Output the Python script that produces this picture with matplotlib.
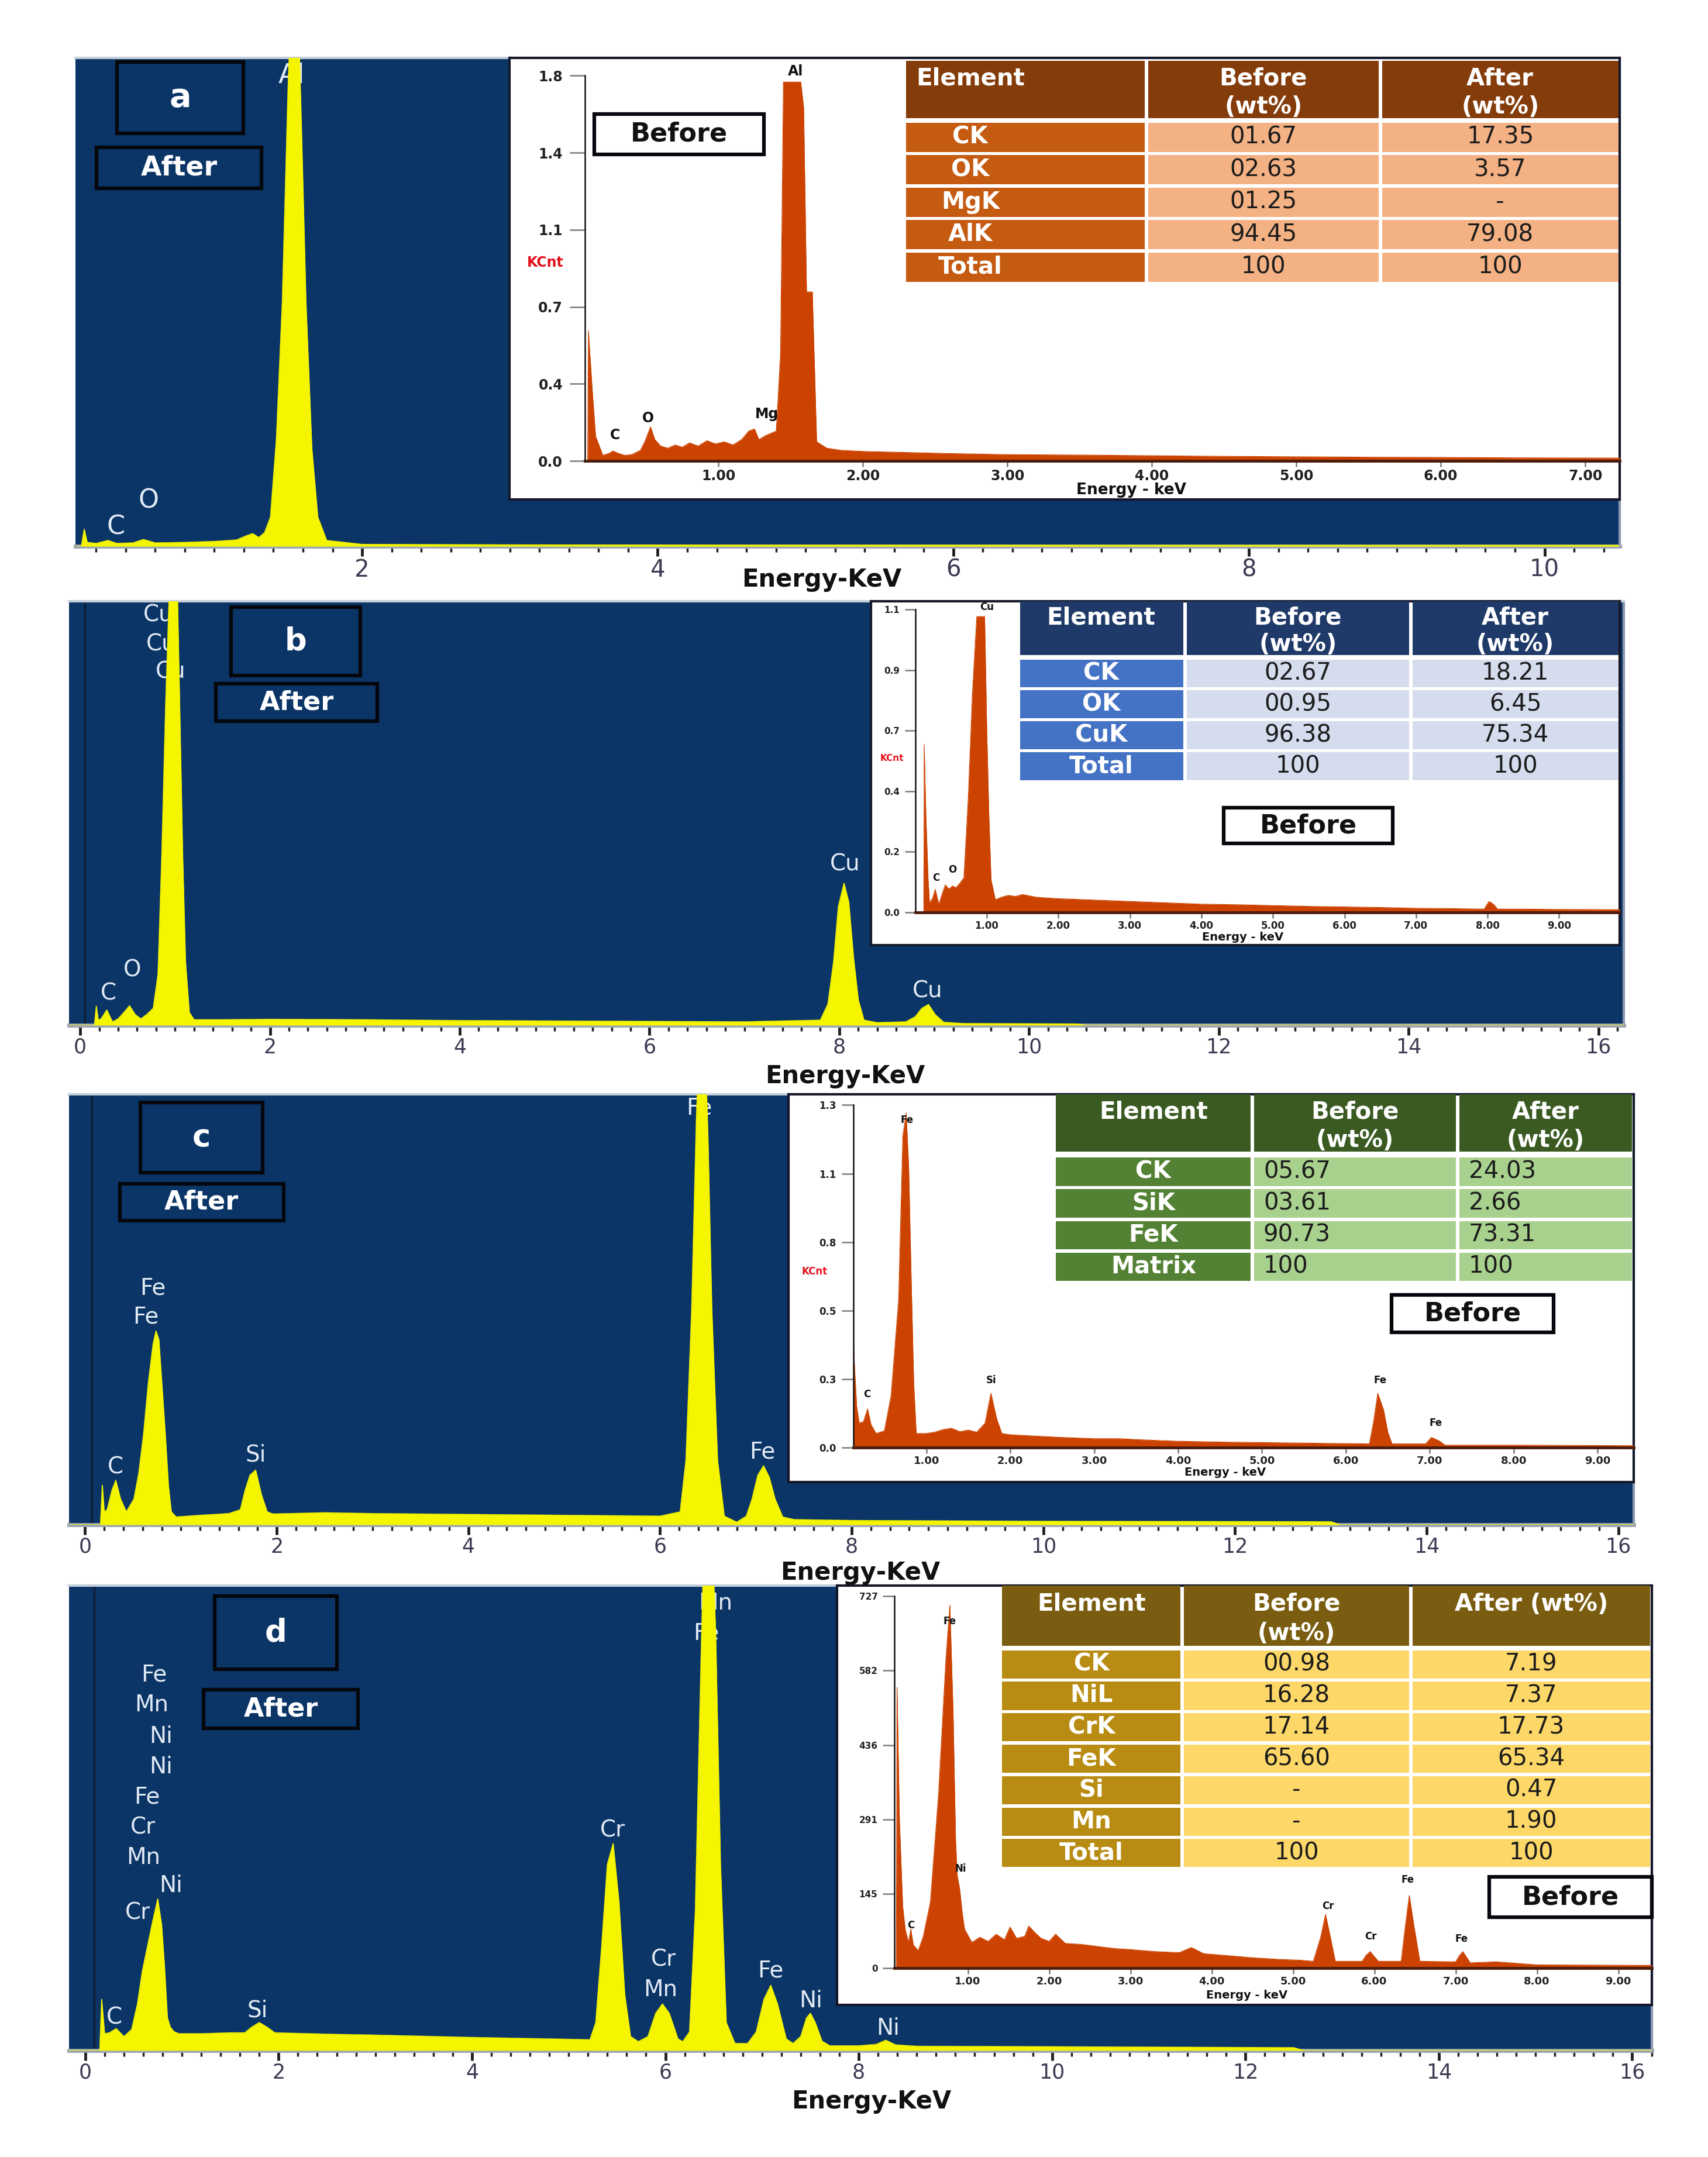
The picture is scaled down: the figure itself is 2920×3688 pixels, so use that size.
import matplotlib
matplotlib.use("Agg")
import matplotlib.pyplot as plt
from matplotlib.patches import Rectangle
from matplotlib.ticker import MultipleLocator

# layout below is measured on a 1241 px wide copy of the figure
W_PX, H_PX = 2920, 3688
REF_W = 1241.0
REF_H = REF_W * H_PX / W_PX

NAVY = "#0a3566"
YELLOW = "#f5f500"
ORANGE = "#cc4200"
PEAK_TEXT = "#e2eaf4"

# ---- "After" spectra (energy keV, counts as % of panel height) ----
AFTER_A = [(0.06, 0), (0.10, 0), (0.12, 3.5), (0.14, 0.8), (0.20, 0.6), (0.28, 1.2), (0.34, 0.6),
           (0.45, 0.7), (0.52, 1.4), (0.60, 0.7), (0.80, 0.8), (1.00, 1.0), (1.15, 1.3), (1.22, 2.2),
           (1.26, 2.6), (1.30, 1.8), (1.34, 2.8), (1.38, 6.0), (1.42, 22.0), (1.46, 50.0), (1.50, 95.0),
           (1.53, 118.0), (1.56, 118.0), (1.59, 85.0), (1.62, 50.0), (1.66, 20.0), (1.70, 6.0),
           (1.76, 1.2), (2.00, 0.4), (3.00, 0.3), (5.00, 0.25), (8.00, 0.2), (10.5, 0.2)]

AFTER_B = [(-0.12, 0), (0.15, 0), (0.17, 4.5), (0.19, 1.2), (0.22, 1.5), (0.28, 3.6), (0.34, 0.8),
           (0.40, 1.5), (0.46, 3.0), (0.52, 4.6), (0.58, 2.5), (0.64, 1.5), (0.70, 2.5), (0.77, 4.0),
           (0.82, 12.0), (0.86, 40.0), (0.90, 75.0), (0.95, 110.0), (0.98, 118.0), (1.01, 118.0),
           (1.04, 85.0), (1.08, 40.0), (1.11, 15.0), (1.15, 3.0), (1.20, 1.3), (1.5, 1.3), (2.0, 1.4),
           (3.0, 1.3), (4.0, 1.1), (5.0, 1.0), (6.0, 0.9), (7.0, 0.8), (7.80, 1.2), (7.88, 5.0),
           (7.94, 15.0), (7.99, 28.0), (8.05, 33.5), (8.10, 29.0), (8.15, 16.0), (8.20, 6.0),
           (8.26, 1.2), (8.40, 0.6), (8.70, 0.8), (8.80, 2.0), (8.87, 4.0), (8.94, 4.9), (9.01, 2.5),
           (9.10, 0.7), (9.30, 0.4), (10.5, 0.3), (10.6, 0), (16.3, 0)]

AFTER_C = [(-0.17, 0), (0.16, 0), (0.18, 9.2), (0.20, 3.0), (0.23, 3.5), (0.28, 8.0), (0.32, 10.3),
           (0.37, 6.0), (0.43, 3.0), (0.51, 6.0), (0.56, 12.0), (0.61, 21.0), (0.66, 33.0),
           (0.71, 42.0), (0.74, 45.0), (0.77, 43.0), (0.81, 30.0), (0.84, 20.0), (0.87, 9.0),
           (0.90, 3.0), (0.95, 1.8), (1.2, 2.2), (1.5, 2.6), (1.62, 3.5), (1.67, 8.0), (1.72, 11.5),
           (1.78, 12.7), (1.84, 7.0), (1.90, 3.0), (1.96, 2.5), (2.5, 2.8), (3.0, 2.6), (4.0, 2.4),
           (5.0, 2.2), (6.0, 2.0), (6.21, 3.0), (6.27, 15.0), (6.33, 50.0), (6.38, 95.0),
           (6.42, 118.0), (6.46, 118.0), (6.50, 90.0), (6.54, 50.0), (6.60, 15.0), (6.67, 2.0),
           (6.80, 0.6), (6.90, 2.0), (6.96, 6.0), (7.02, 11.5), (7.08, 13.7), (7.14, 11.0),
           (7.20, 6.0), (7.28, 1.8), (7.40, 1.2), (8.0, 1.0), (10.0, 0.8), (13.0, 0.7), (13.1, 0),
           (16.2, 0)]

AFTER_D = [(-0.17, 0), (0.15, 0), (0.17, 11.0), (0.20, 3.6), (0.25, 3.8), (0.32, 4.7), (0.40, 3.0),
           (0.48, 4.5), (0.54, 10.0), (0.59, 17.0), (0.64, 22.0), (0.70, 28.0), (0.75, 32.6),
           (0.79, 27.0), (0.82, 18.0), (0.85, 7.0), (0.88, 5.0), (0.92, 4.0), (0.97, 3.6), (1.2, 3.6),
           (1.5, 3.8), (1.65, 3.8), (1.72, 5.0), (1.80, 6.0), (1.88, 5.0), (1.96, 3.8), (2.5, 3.5),
           (3.0, 3.3), (4.0, 2.8), (5.0, 2.4), (5.22, 2.3), (5.28, 6.0), (5.34, 22.0), (5.40, 40.0),
           (5.46, 44.5), (5.52, 32.0), (5.58, 12.0), (5.64, 3.0), (5.72, 1.9), (5.82, 3.0),
           (5.90, 8.0), (5.97, 10.0), (6.04, 8.0), (6.13, 2.5), (6.18, 1.9), (6.25, 4.0),
           (6.31, 30.0), (6.37, 85.0), (6.41, 118.0), (6.47, 118.0), (6.52, 90.0), (6.57, 40.0),
           (6.63, 6.0), (6.72, 1.5), (6.85, 1.5), (6.94, 4.0), (7.02, 11.0), (7.09, 14.0),
           (7.16, 10.0), (7.25, 2.5), (7.32, 1.5), (7.40, 3.0), (7.46, 7.0), (7.50, 8.0), (7.55, 6.0),
           (7.62, 2.0), (7.70, 1.0), (8.0, 1.0), (8.18, 1.3), (8.28, 2.2), (8.38, 1.2), (8.6, 0.9),
           (10.0, 0.8), (12.5, 0.6), (12.6, 0), (16.2, 0)]

# ---- "Before" spectra (energy keV, KCnt or counts) ----
BEFORE_A = [(0.08, 0), (0.095, 0), (0.10, 0.61), (0.12, 0.40), (0.13, 0.30), (0.15, 0.115),
            (0.20, 0.027), (0.24, 0.035), (0.27, 0.047), (0.31, 0.035), (0.35, 0.027), (0.40, 0.03),
            (0.46, 0.05), (0.49, 0.09), (0.53, 0.16), (0.56, 0.10), (0.60, 0.07), (0.65, 0.06),
            (0.70, 0.075), (0.75, 0.065), (0.80, 0.085), (0.86, 0.07), (0.92, 0.095), (0.98, 0.08),
            (1.04, 0.09), (1.10, 0.075), (1.16, 0.10), (1.21, 0.14), (1.25, 0.15), (1.28, 0.10),
            (1.33, 0.12), (1.40, 0.14), (1.43, 0.5), (1.45, 1.77), (1.57, 1.77), (1.59, 1.65),
            (1.61, 0.79), (1.65, 0.79), (1.68, 0.09), (1.75, 0.06), (1.85, 0.05), (2.0, 0.045),
            (2.3, 0.04), (2.6, 0.035), (3.0, 0.03), (3.5, 0.028), (4.0, 0.025), (4.5, 0.022),
            (5.0, 0.02), (5.5, 0.018), (6.0, 0.017), (6.5, 0.015), (7.24, 0.014)]

BEFORE_B = [(0.0, 0), (0.12, 0), (0.125, 0.61), (0.15, 0.34), (0.18, 0.12), (0.20, 0.034),
            (0.24, 0.05), (0.28, 0.084), (0.31, 0.05), (0.33, 0.03), (0.38, 0.07), (0.42, 0.10),
            (0.47, 0.085), (0.52, 0.096), (0.57, 0.09), (0.62, 0.105), (0.68, 0.126), (0.74, 0.41),
            (0.80, 0.8), (0.86, 1.075), (0.97, 1.075), (1.0, 0.66), (1.03, 0.35), (1.06, 0.118),
            (1.12, 0.046), (1.2, 0.055), (1.3, 0.062), (1.4, 0.058), (1.5, 0.065), (1.7, 0.055),
            (2.0, 0.05), (2.5, 0.045), (3.0, 0.04), (3.5, 0.035), (4.0, 0.03), (4.5, 0.028),
            (5.0, 0.025), (5.5, 0.022), (6.0, 0.02), (6.5, 0.018), (7.0, 0.015), (7.5, 0.014),
            (7.95, 0.012), (8.02, 0.04), (8.08, 0.03), (8.14, 0.012), (8.5, 0.012), (9.0, 0.011),
            (9.85, 0.01)]

BEFORE_C = [(0.10, 0), (0.115, 0), (0.12, 0.557), (0.14, 0.34), (0.17, 0.16), (0.20, 0.095),
            (0.25, 0.10), (0.30, 0.15), (0.34, 0.09), (0.40, 0.055), (0.45, 0.06), (0.50, 0.065),
            (0.58, 0.2), (0.67, 0.57), (0.72, 1.20), (0.76, 1.29), (0.79, 1.08), (0.82, 0.65),
            (0.85, 0.25), (0.88, 0.055), (1.0, 0.055), (1.1, 0.06), (1.2, 0.07), (1.3, 0.075),
            (1.4, 0.062), (1.5, 0.068), (1.6, 0.06), (1.7, 0.095), (1.77, 0.21), (1.84, 0.11),
            (1.9, 0.055), (2.0, 0.05), (2.3, 0.045), (2.6, 0.04), (3.0, 0.035), (3.3, 0.035),
            (3.6, 0.03), (4.0, 0.025), (4.5, 0.022), (5.0, 0.02), (5.5, 0.018), (6.0, 0.016),
            (6.28, 0.015), (6.33, 0.1), (6.38, 0.21), (6.45, 0.145), (6.50, 0.06), (6.55, 0.015),
            (6.95, 0.015), (7.02, 0.04), (7.12, 0.025), (7.18, 0.01), (8.0, 0.01), (9.43, 0.008)]

BEFORE_D = [(0.10, 0), (0.12, 0), (0.13, 549), (0.16, 286), (0.20, 120), (0.23, 76), (0.27, 50),
            (0.30, 76), (0.33, 45), (0.39, 34), (0.45, 60), (0.54, 129), (0.64, 339), (0.73, 602),
            (0.78, 710), (0.82, 497), (0.85, 250), (0.87, 181), (0.90, 155), (0.93, 110), (0.96, 76),
            (1.05, 50), (1.15, 60), (1.25, 52), (1.35, 66), (1.45, 55), (1.52, 80), (1.6, 58),
            (1.7, 62), (1.75, 82), (1.82, 70), (1.9, 58), (2.0, 52), (2.08, 66), (2.2, 48),
            (2.4, 46), (2.6, 42), (2.8, 38), (3.0, 36), (3.3, 32), (3.6, 30), (3.75, 40), (3.9, 28),
            (4.2, 24), (4.5, 20), (4.8, 17), (5.1, 15), (5.25, 13), (5.34, 60), (5.40, 105),
            (5.46, 60), (5.52, 13), (5.85, 13), (5.90, 25), (5.95, 32), (6.0, 22), (6.05, 13),
            (6.33, 13), (6.38, 80), (6.43, 142), (6.49, 80), (6.56, 13), (7.0, 12), (7.05, 25),
            (7.09, 32), (7.13, 22), (7.18, 10), (7.5, 12), (8.0, 6), (9.41, 5)]

# ---- inset axis ticks ----
INSET_A_YTICKS = [0, 0.36, 0.72, 1.08, 1.44, 1.8]
INSET_A_YLABELS = ["0.0", "0.4", "0.7", "1.1", "1.4", "1.8"]
INSET_B_YTICKS = [0, 0.22, 0.44, 0.66, 0.88, 1.1]
INSET_B_YLABELS = ["0.0", "0.2", "0.4", "0.7", "0.9", "1.1"]
INSET_C_YTICKS = [0, 0.264, 0.528, 0.792, 1.056, 1.32]
INSET_C_YLABELS = ["0.0", "0.3", "0.5", "0.8", "1.1", "1.3"]
INSET_D_YTICKS = [0, 145.4, 290.8, 436.2, 581.6, 727]
INSET_D_YLABELS = ["0", "145", "291", "436", "582", "727"]
INSET_A_XTICKS = [1, 2, 3, 4, 5, 6, 7]
INSET_BCD_XTICKS = [1, 2, 3, 4, 5, 6, 7, 8, 9]

# ---- composition tables ----
TABLE_A_ELEMENTS = ["CK", "OK", "MgK", "AlK", "Total"]
TABLE_A_BEFORE = ["01.67", "02.63", "01.25", "94.45", "100"]
TABLE_A_AFTER = ["17.35", "3.57", "-", "79.08", "100"]
TABLE_B_ELEMENTS = ["CK", "OK", "CuK", "Total"]
TABLE_B_BEFORE = ["02.67", "00.95", "96.38", "100"]
TABLE_B_AFTER = ["18.21", "6.45", "75.34", "100"]
TABLE_C_ELEMENTS = ["CK", "SiK", "FeK", "Matrix"]
TABLE_C_BEFORE = ["05.67", "03.61", "90.73", "100"]
TABLE_C_AFTER = ["24.03", "2.66", "73.31", "100"]
TABLE_D_ELEMENTS = ["CK", "NiL", "CrK", "FeK", "Si", "Mn", "Total"]
TABLE_D_BEFORE = ["00.98", "16.28", "17.14", "65.60", "-", "-", "100"]
TABLE_D_AFTER = ["7.19", "7.37", "17.73", "65.34", "0.47", "1.90", "100"]


def fig_rect(x0, y0, x1, y1):
    return [x0 / REF_W, 1 - y1 / REF_H, (x1 - x0) / REF_W, (y1 - y0) / REF_H]


def draw_after(fig, ov, box, xlim, spectrum, axis_line, peak_labels, tick_size):
    ax = fig.add_axes(fig_rect(*box), zorder=1)
    ax.set_facecolor(NAVY)
    energy, counts = zip(*spectrum)
    ax.fill_between(energy, counts, 0, color=YELLOW, lw=0, zorder=3)
    ax.plot(energy, counts, color=YELLOW, lw=1.2, zorder=3)
    if axis_line is not None:
        ax.axvline(axis_line, color="#0d1e36", lw=2.5, zorder=2)
    ax.set_xlim(*xlim)
    ax.set_ylim(0, 100)
    ax.set_yticks([])
    ax.xaxis.set_major_locator(MultipleLocator(2))
    ax.xaxis.set_minor_locator(MultipleLocator(0.2))
    ax.tick_params(axis="x", which="major", direction="out", length=12, width=3.5,
                   color="#222222", labelsize=tick_size, labelcolor="#3a3a52", pad=3)
    ax.tick_params(axis="x", which="minor", direction="out", length=7, width=2.5, color="#222222")
    ax.spines["left"].set_visible(False)
    ax.spines["top"].set_color("#c5cfdb")
    ax.spines["top"].set_linewidth(3)
    ax.spines["right"].set_color("#8796ab")
    ax.spines["right"].set_linewidth(3)
    ax.spines["bottom"].set_color("#9ca6b3")
    ax.spines["bottom"].set_linewidth(5)
    for text, x, y, size in peak_labels:
        ax.text(x, y, text, transform=ov.transData, ha="center", va="center",
                color=PEAK_TEXT, fontsize=size, zorder=2)
    return ax


def draw_before(fig, ov, frame, box, xlim, yticks, ylabels, xticks, spectrum, peak_labels,
                kcnt, xlabel_pos, sizes):
    tick_size, ylab_size, peak_size, xlabel_size = sizes
    fr = fig.add_axes(fig_rect(*frame), zorder=2)
    fr.set_facecolor("white")
    fr.set_xticks([])
    fr.set_yticks([])
    for sp in fr.spines.values():
        sp.set_color("#15182a")
        sp.set_linewidth(3)

    ax = fig.add_axes(fig_rect(*box), zorder=3)
    ax.patch.set_alpha(0)
    energy, counts = zip(*spectrum)
    ax.fill_between(energy, counts, 0, color=ORANGE, lw=0)
    ax.plot(energy, counts, color=ORANGE, lw=0.8)
    ax.set_xlim(*xlim)
    ax.set_ylim(0, yticks[-1])
    ax.set_yticks(yticks)
    ax.set_yticklabels(ylabels, fontweight="bold", fontsize=ylab_size, color="#222222")
    ax.set_xticks(xticks)
    ax.set_xticklabels(["%.2f" % t for t in xticks], fontweight="bold", fontsize=tick_size,
                       color="#222222")
    ax.tick_params(axis="y", direction="out", length=tick_size * 1.1, width=1.8, color="#7a7a7a",
                   pad=tick_size * 0.5)
    ax.tick_params(axis="x", direction="out", length=7, width=1.8, color="#7a7a7a", pad=3)
    ax.spines["top"].set_visible(False)
    ax.spines["right"].set_visible(False)
    ax.spines["left"].set_color("#111111")
    ax.spines["left"].set_linewidth(1.8)
    ax.spines["bottom"].set_color("#4a1c0c")
    ax.spines["bottom"].set_linewidth(3.5)
    for text, x, y in peak_labels:
        ax.text(x, y, text, transform=ov.transData, ha="center", va="center",
                color="#111111", fontsize=peak_size, fontweight="bold")
    if kcnt is not None:
        ov.text(kcnt[0], kcnt[1], "KCnt", ha="center", va="center", color="#e3121b",
                fontsize=ylab_size, fontweight="bold")
    ov.text(xlabel_pos[0], xlabel_pos[1], "Energy - keV", ha="center", va="center",
            color="#111111", fontsize=xlabel_size, fontweight="bold")
    return ax


def label_box(ov, rect, text, size, face=NAVY, color="white", lw=4.5):
    x0, y0, x1, y1 = rect
    ov.add_patch(Rectangle((x0, y0), x1 - x0, y1 - y0, facecolor=face, edgecolor="#05070d",
                           lw=lw, zorder=6))
    ov.text((x0 + x1) / 2, (y0 + y1) / 2, text, ha="center", va="center", color=color,
            fontsize=size, fontweight="bold", zorder=7)


def draw_table(ov, cols, head, body, elements, before, after, palette, elem_x, value_left,
               one_line_after=False, size=29):
    head_c, elem_c, cell_c = palette
    gap = 1.2
    hh = head[1] - head[0]
    for j in range(3):
        ov.add_patch(Rectangle((cols[j] + gap, head[0]), cols[j + 1] - cols[j] - 2 * gap, hh,
                               facecolor=head_c, lw=0, zorder=6))
    ty = head[0] + 0.31 * hh
    ov.text(elem_x, ty, "Element", ha="center", va="center", color="white", fontsize=size,
            fontweight="bold", zorder=7)
    bx = (cols[1] + cols[2]) / 2
    ax_ = (cols[2] + cols[3]) / 2
    ov.text(bx, ty, "Before", ha="center", va="center", color="white", fontsize=size,
            fontweight="bold", zorder=7)
    ov.text(bx, head[0] + 0.8 * hh, "(wt%)", ha="center", va="center", color="white",
            fontsize=size, fontweight="bold", zorder=7)
    if one_line_after:
        ov.text(ax_, ty, "After (wt%)", ha="center", va="center", color="white", fontsize=size,
                fontweight="bold", zorder=7)
    else:
        ov.text(ax_, ty, "After", ha="center", va="center", color="white", fontsize=size,
                fontweight="bold", zorder=7)
        ov.text(ax_, head[0] + 0.8 * hh, "(wt%)", ha="center", va="center", color="white",
                fontsize=size, fontweight="bold", zorder=7)

    n = len(elements)
    rh = (body[1] - body[0]) / n
    for i in range(n):
        y0 = body[0] + i * rh
        for j, face in enumerate([elem_c, cell_c, cell_c]):
            ov.add_patch(Rectangle((cols[j] + gap, y0 + gap), cols[j + 1] - cols[j] - 2 * gap,
                                   rh - 2 * gap, facecolor=face, lw=0, zorder=6))
        yc = y0 + rh / 2
        ov.text(elem_x, yc, elements[i], ha="center", va="center", color="white",
                fontsize=size, fontweight="bold", zorder=7)
        for j, val in ((1, before[i]), (2, after[i])):
            if value_left:
                ov.text(cols[j] + 8, yc, val, ha="left", va="center", color="#1c1c1c",
                        fontsize=size, zorder=7)
            else:
                ov.text((cols[j] + cols[j + 1]) / 2, yc, val, ha="center", va="center",
                        color="#1c1c1c", fontsize=size, zorder=7)


def energy_label(ov, x, y):
    ov.text(x, y, "Energy-KeV", ha="center", va="center", fontsize=30, fontweight="bold",
            color="#111111", zorder=7)


def main():
    plt.rcParams["font.family"] = ["DejaVu Sans"]
    fig = plt.figure(figsize=(W_PX / 100, H_PX / 100), dpi=100)
    fig.patch.set_facecolor("white")

    ov = fig.add_axes([0, 0, 1, 1], zorder=5)
    ov.set_xlim(0, REF_W)
    ov.set_ylim(REF_H, 0)
    ov.axis("off")
    ov.patch.set_alpha(0)

    # ---------------- panel a ----------------
    draw_after(fig, ov, (55, 42, 1177, 397), (0.062, 10.51), AFTER_A, None,
               [("Al", 212, 55, 34), ("C", 84, 383, 32), ("O", 108, 364, 32)], 29)
    draw_before(fig, ov, (370, 42, 1177, 363), (425, 55, 1177, 335), (0.076, 7.24),
                INSET_A_YTICKS, INSET_A_YLABELS, INSET_A_XTICKS, BEFORE_A,
                [("Al", 578, 52), ("C", 447, 316), ("O", 471, 304), ("Mg", 557, 301)],
                (396, 191), (822, 356), (17, 17, 17, 19))
    label_box(ov, (85, 45, 177, 97), "a", 40)
    label_box(ov, (70, 107, 190, 137), "After", 33)
    label_box(ov, (432, 83, 555, 112), "Before", 32, face="white", color="#111111")
    draw_table(ov, [657, 833, 1003, 1177], (44, 86), (88, 206), TABLE_A_ELEMENTS,
               TABLE_A_BEFORE, TABLE_A_AFTER, ("#843c0b", "#c55a11", "#f4b183"), 705, False)
    energy_label(ov, 597, 421)

    # ---------------- panel b ----------------
    draw_after(fig, ov, (50, 437, 1180, 745), (-0.12, 16.27), AFTER_B, 0.05,
               [("Cu", 115, 447, 28), ("Cu", 117, 468, 28), ("Cu", 124, 488, 28),
                ("C", 79, 722, 28), ("O", 96, 705, 28), ("Cu", 614, 628, 28),
                ("Cu", 674, 720, 28)], 25)
    draw_before(fig, ov, (633, 437, 1177, 687), (665, 443, 1177, 663), (0.0, 9.85),
                INSET_B_YTICKS, INSET_B_YLABELS, INSET_BCD_XTICKS, BEFORE_B,
                [("Cu", 717, 441), ("C", 680, 638), ("O", 692, 632)],
                (648, 551), (903, 681), (12, 11, 12, 14))
    label_box(ov, (168, 441, 262, 491), "b", 38)
    label_box(ov, (157, 497, 274, 524), "After", 32)
    label_box(ov, (889, 587, 1012, 613), "Before", 32, face="white", color="#111111")
    draw_table(ov, [740, 861, 1025, 1177], (437, 476), (478, 568), TABLE_B_ELEMENTS,
               TABLE_B_BEFORE, TABLE_B_AFTER, ("#1f3a68", "#4472c4", "#d5dcee"), 800, False)
    energy_label(ov, 614, 782)

    # ---------------- panel c ----------------
    draw_after(fig, ov, (50, 795, 1187, 1108), (-0.17, 16.16), AFTER_C, 0.07,
               [("Fe", 111, 936, 28), ("Fe", 106, 957, 28), ("C", 84, 1066, 28),
                ("Si", 186, 1057, 28), ("Fe", 508, 805, 28), ("Fe", 554, 1055, 28)], 25)
    draw_before(fig, ov, (573, 795, 1187, 1077), (620, 803, 1187, 1052), (0.13, 9.43),
                INSET_C_YTICKS, INSET_C_YLABELS, INSET_BCD_XTICKS, BEFORE_C,
                [("Fe", 659, 814), ("C", 630, 1013), ("Si", 720, 1003), ("Fe", 1003, 1003),
                 ("Fe", 1043, 1034)],
                (592, 924), (890, 1070), (13, 12, 12, 14))
    label_box(ov, (102, 801, 191, 852), "c", 38)
    label_box(ov, (87, 860, 206, 887), "After", 32)
    label_box(ov, (1011, 941, 1129, 968), "Before", 32, face="white", color="#111111")
    draw_table(ov, [766, 910, 1059, 1187], (795, 837), (840, 932), TABLE_C_ELEMENTS,
               TABLE_C_BEFORE, TABLE_C_AFTER, ("#3a5a22", "#548235", "#a9d18e"), 838, True)
    energy_label(ov, 625, 1143)

    # ---------------- panel d ----------------
    draw_after(fig, ov, (50, 1152, 1200, 1490), (-0.17, 16.2), AFTER_D, 0.09,
               [("Fe", 112, 1217, 28), ("Mn", 110, 1239, 28), ("Ni", 117, 1262, 28),
                ("Ni", 117, 1284, 28), ("Fe", 107, 1306, 28), ("Cr", 104, 1328, 28),
                ("Mn", 104, 1350, 28), ("Ni", 124, 1370, 28), ("Cr", 100, 1390, 28),
                ("C", 83, 1466, 28), ("Si", 187, 1461, 28), ("Cr", 445, 1330, 28),
                ("Cr", 482, 1424, 28), ("Mn", 480, 1446, 28), ("Mn", 520, 1165, 28),
                ("Fe", 513, 1187, 28), ("Fe", 560, 1432, 28), ("Ni", 589, 1454, 28),
                ("Ni", 645, 1474, 28)], 25)
    draw_before(fig, ov, (608, 1152, 1200, 1457), (650, 1160, 1200, 1430), (0.1, 9.41),
                INSET_D_YTICKS, INSET_D_YLABELS, INSET_BCD_XTICKS, BEFORE_D,
                [("Fe", 690, 1178), ("Ni", 698, 1358), ("C", 662, 1399), ("Cr", 965, 1385),
                 ("Cr", 996, 1407), ("Fe", 1023, 1366), ("Fe", 1062, 1409)],
                None, (906, 1450), (13, 11, 12, 14))
    label_box(ov, (156, 1160, 245, 1213), "d", 38)
    label_box(ov, (148, 1228, 260, 1256), "After", 32)
    label_box(ov, (1082, 1364, 1200, 1393), "Before", 32, face="white", color="#111111")
    draw_table(ov, [727, 859, 1025, 1200], (1152, 1196), (1198, 1358), TABLE_D_ELEMENTS,
               TABLE_D_BEFORE, TABLE_D_AFTER, ("#7a5d10", "#b88c12", "#fdd868"), 793, False,
               one_line_after=True)
    energy_label(ov, 633, 1527)

    fig.savefig("out.png", dpi=100, facecolor="white")
    plt.close(fig)


if __name__ == "__main__":
    main()
